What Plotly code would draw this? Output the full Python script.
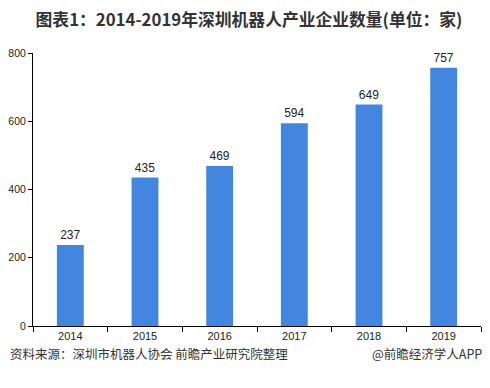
import plotly.graph_objects as go

years = ["2014", "2015", "2016", "2017", "2018", "2019"]
counts = [237, 435, 469, 594, 649, 757]
y_ticks = [0, 200, 400, 600, 800]

title = "图表1：2014-2019年深圳机器人产业企业数量(单位：家)"
source = "资料来源：深圳市机器人协会 前瞻产业研究院整理"
brand = "@前瞻经济学人APP"

font_family = "Microsoft YaHei, Noto Sans CJK SC, sans-serif"
num_font = "Arial, Liberation Sans, sans-serif"

fig = go.Figure(go.Bar(
    x=years, y=counts,
    marker=dict(color="#4286E0", line=dict(width=0)),
    width=0.36,
    text=[str(v) for v in counts],
    textposition="outside",
    textfont=dict(size=12, color="#222", family=num_font),
    cliponaxis=False,
))

fig.update_layout(
    width=482, height=380,
    margin=dict(l=25, r=9, t=45, b=62),
    paper_bgcolor="white", plot_bgcolor="white",
    showlegend=False,
    font=dict(family=font_family, color="#333"),
    title=dict(text="<b>" + title + "</b>", x=0.5, xanchor="center", y=0.968, yanchor="middle",
               font=dict(size=16.8, color="#333", family=font_family)),
    xaxis=dict(
        type="category", showline=True, linecolor="#000", linewidth=1,
        ticks="outside", tickson="boundaries", ticklen=5, tickcolor="#000",
        tickfont=dict(size=11, color="#222", family=num_font),
        showgrid=False, range=[-0.5, 5.5], automargin=False,
    ),
    yaxis=dict(
        range=[0, 800], tickvals=y_ticks, showline=True, linecolor="#000", linewidth=1,
        ticks="outside", ticklen=4, tickcolor="#000", showgrid=False, zeroline=False,
        tickfont=dict(size=10.5, color="#222", family=num_font), automargin=False,
    ),
    annotations=[
        dict(text=source, xref="paper", yref="paper", x=-0.056, y=-0.099, xanchor="left", yanchor="middle",
             showarrow=False, font=dict(size=12.5, color="#333", family=font_family)),
        dict(text=brand, xref="paper", yref="paper", x=1.007, y=-0.099, xanchor="right", yanchor="middle",
             showarrow=False, font=dict(size=12.5, color="#333", family=font_family)),
    ],
)

fig.write_html("out.html")
